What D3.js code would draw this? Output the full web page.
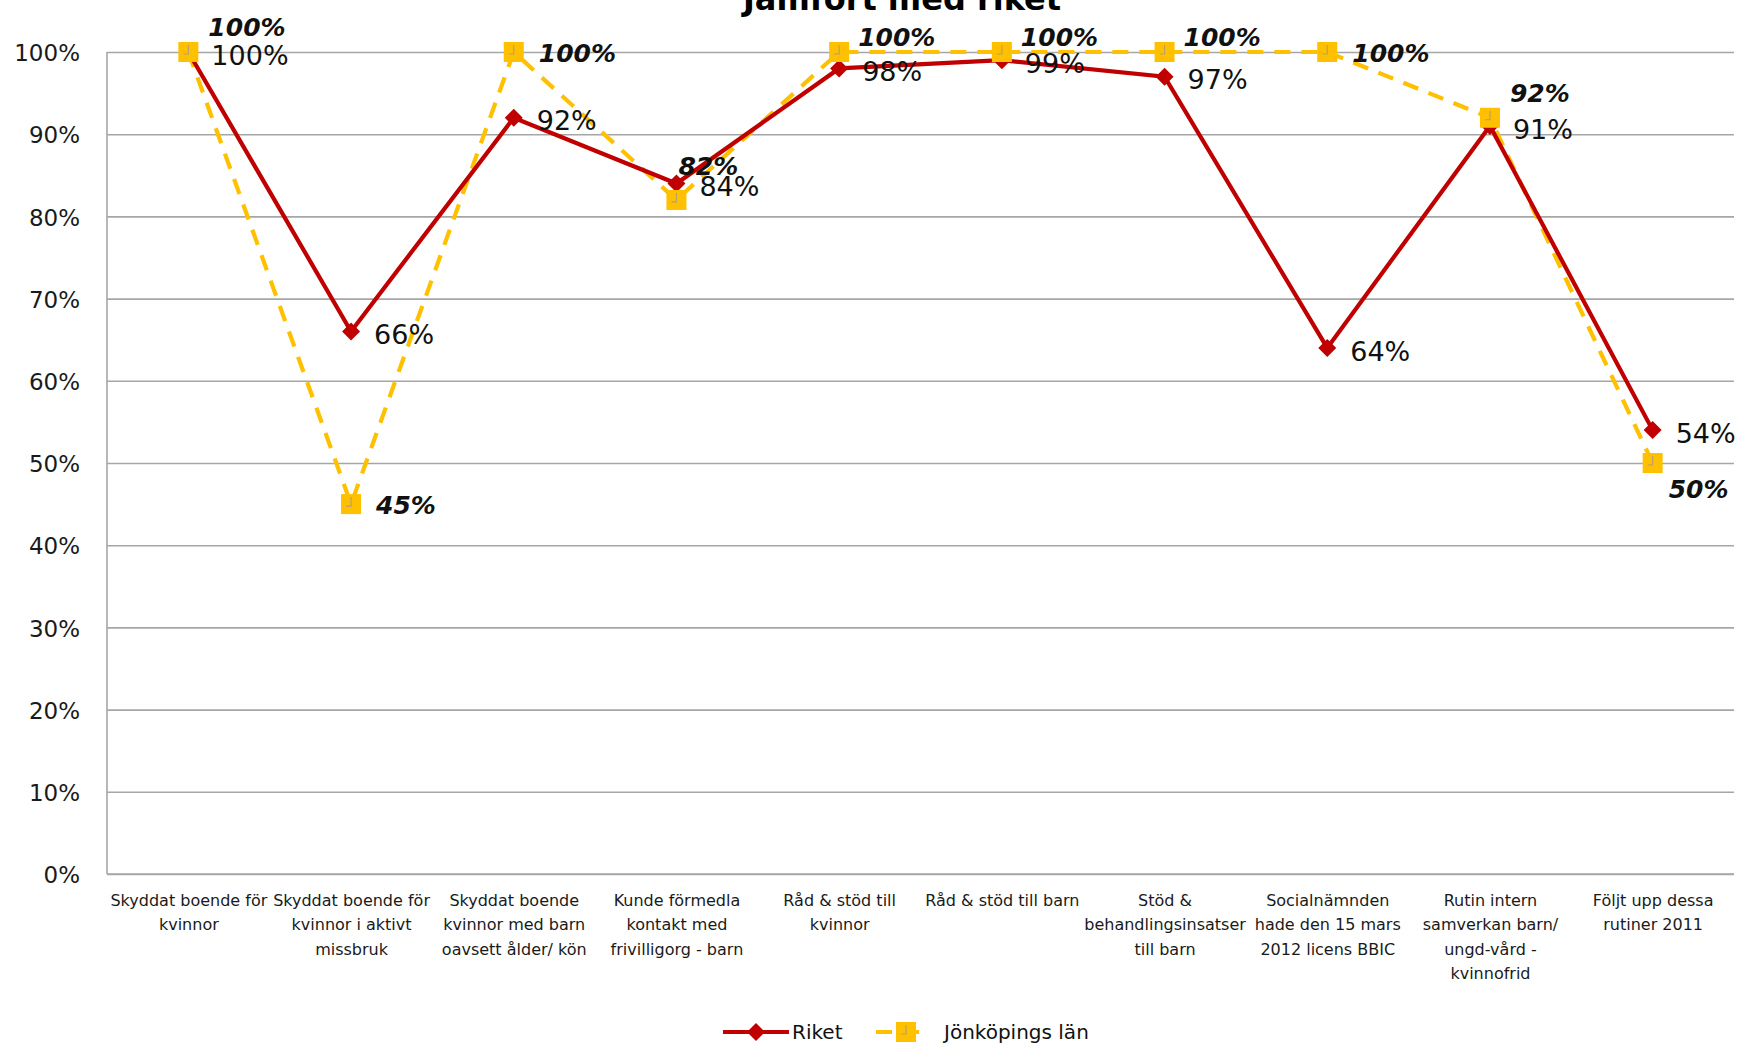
<!DOCTYPE html>
<html>
<head>
<meta charset="utf-8">
<script src="https://cdn.jsdelivr.net/npm/d3@7"></script>
<style>
  html, body { margin: 0; padding: 0; background: #fff; }
  svg { display: block; }
</style>
</head>
<body>
<svg id="chart" width="1738" height="1044"></svg>
<script>
// ---------- data ----------
const title = "Jämfört med riket";
const categories = [
  "Skyddat boende för\nkvinnor",
  "Skyddat boende för\nkvinnor i aktivt\nmissbruk",
  "Skyddat boende\nkvinnor med barn\noavsett ålder/ kön",
  "Kunde förmedla\nkontakt med\nfrivilligorg - barn",
  "Råd & stöd till\nkvinnor",
  "Råd & stöd till barn",
  "Stöd &\nbehandlingsinsatser\ntill barn",
  "Socialnämnden\nhade den 15 mars\n2012 licens BBIC",
  "Rutin intern\nsamverkan barn/\nungd-vård -\nkvinnofrid",
  "Följt upp dessa\nrutiner 2011"
];
const seriesNames = ["Riket", "Jönköpings län"];
const riket = [100, 66, 92, 84, 98, 99, 97, 64, 91, 54];
const jonkoping = [100, 45, 100, 82, 100, 100, 100, 100, 92, 50];
const yTicks = [0, 10, 20, 30, 40, 50, 60, 70, 80, 90, 100];
// label placement keywords (Jönköpings län labels)
const jkpLabelPlacement = ["above", "right", "right", "top", "upper", "upper", "upper", "right", "above", "below"];

// ---------- layout ----------
const W = 1738, H = 1044;
const plot = { left: 107, right: 1734, top: 52, bottom: 874 };
const RED = "#C00000", YELLOW = "#FFC000", GRID = "#A6A6A6";
const FONT = "'DejaVu Sans', sans-serif";

const svg = d3.select("#chart");
svg.append("rect").attr("width", W).attr("height", H).attr("fill", "#fff");

const x = d3.scalePoint().domain(d3.range(categories.length))
  .range([plot.left, plot.right]).padding(0.5);
const y = d3.scaleLinear().domain([0, 100]).range([plot.bottom, plot.top]);

// title (partly clipped at top, as in reference)
svg.append("text")
  .attr("x", 902).attr("y", 10)
  .attr("text-anchor", "middle")
  .attr("font-family", FONT).attr("font-weight", "bold").attr("font-size", 32)
  .attr("fill", "#000").text(title);

// y axis + gridlines
const yAxis = svg.append("g")
  .attr("transform", `translate(${plot.left},0)`)
  .call(d3.axisLeft(y).tickValues(yTicks).tickSize(-(plot.right - plot.left)).tickPadding(27)
    .tickFormat(d => d + "%"));
yAxis.select(".domain").remove();
yAxis.selectAll(".tick line").attr("stroke", GRID).attr("stroke-width", 1.6);
yAxis.selectAll(".tick text")
  .attr("font-family", FONT).attr("font-size", 23).attr("fill", "#1a1a1a")
  .attr("dy", "0.38em");

// axis lines
svg.append("line").attr("x1", plot.left).attr("x2", plot.left)
  .attr("y1", plot.top).attr("y2", plot.bottom)
  .attr("stroke", GRID).attr("stroke-width", 1.6);
svg.append("line").attr("x1", plot.left).attr("x2", plot.right)
  .attr("y1", plot.bottom).attr("y2", plot.bottom)
  .attr("stroke", GRID).attr("stroke-width", 1.6);

// x axis category labels
const xAxis = svg.append("g")
  .attr("transform", `translate(0,${plot.bottom})`)
  .call(d3.axisBottom(x).tickSize(0).tickFormat(""));
xAxis.select(".domain").remove();
xAxis.selectAll(".tick").each(function(d) {
  const t = d3.select(this).append("text")
    .attr("text-anchor", "middle")
    .attr("font-family", FONT).attr("font-size", 16).attr("fill", "#1a1a1a")
    .attr("y", 32);
  categories[d].split("\n").forEach((line, i) => {
    t.append("tspan").attr("x", 0).attr("dy", i === 0 ? 0 : 24.4).text(line);
  });
});

// lines
const lineGen = d3.line().x((d, i) => x(i)).y(d => y(d));
svg.append("path").datum(jonkoping)
  .attr("d", lineGen).attr("fill", "none")
  .attr("stroke", YELLOW).attr("stroke-width", 4.2)
  .attr("stroke-dasharray", "16 11");
svg.append("path").datum(riket)
  .attr("d", lineGen).attr("fill", "none")
  .attr("stroke", RED).attr("stroke-width", 4.2);

// markers
const diamond = "M0,-9L9,0L0,9L-9,0Z";
function drawSquare(g) {
  g.append("rect").attr("x", -10).attr("y", -10).attr("width", 20).attr("height", 20)
    .attr("fill", YELLOW);
  g.append("path").attr("d", "M0,-7V2H-5").attr("fill", "none")
    .attr("stroke", "#B8A070").attr("stroke-width", 1.2);
}
svg.append("g").selectAll("path").data(riket).join("path")
  .attr("transform", (d, i) => `translate(${x(i)},${y(d)})`)
  .attr("d", diamond).attr("fill", RED);
svg.append("g").selectAll("g").data(jonkoping).join("g")
  .attr("transform", (d, i) => `translate(${x(i)},${y(d)})`)
  .each(function() { drawSquare(d3.select(this)); });

// data labels
svg.append("g").selectAll("text").data(riket).join("text")
  .attr("x", (d, i) => x(i) + 23)
  .attr("y", d => y(d) + 3)
  .attr("dy", "0.36em")
  .attr("font-family", FONT).attr("font-size", 27).attr("fill", "#111")
  .text(d => d + "%");

const placeOffset = {
  right: [25, 1], above: [20, -25], upper: [19, -15], top: [2, -34], below: [16, 26]
};
svg.append("g").selectAll("text").data(jonkoping).join("text")
  .attr("x", (d, i) => x(i) + placeOffset[jkpLabelPlacement[i]][0])
  .attr("y", (d, i) => y(d) + placeOffset[jkpLabelPlacement[i]][1])
  .attr("dy", "0.36em")
  .attr("font-family", FONT).attr("font-size", 25)
  .attr("font-weight", "bold").attr("font-style", "italic").attr("fill", "#111")
  .text(d => d + "%");

// legend
const ly = 1032;
const lg = svg.append("g");
lg.append("line").attr("x1", 723).attr("x2", 789).attr("y1", ly).attr("y2", ly)
  .attr("stroke", RED).attr("stroke-width", 4.2);
lg.append("path").attr("transform", `translate(756,${ly})`).attr("d", diamond).attr("fill", RED);
lg.append("text").attr("x", 792).attr("y", ly).attr("dy", "0.36em")
  .attr("font-family", FONT).attr("font-size", 20).attr("fill", "#111").text(seriesNames[0]);
lg.append("line").attr("x1", 876).attr("x2", 926).attr("y1", ly).attr("y2", ly)
  .attr("stroke", YELLOW).attr("stroke-width", 4.2).attr("stroke-dasharray", "16 11");
const lsq = lg.append("g").attr("transform", `translate(906,${ly})`);
drawSquare(lsq);
lg.append("text").attr("x", 944).attr("y", ly).attr("dy", "0.36em")
  .attr("font-family", FONT).attr("font-size", 20).attr("fill", "#111").text(seriesNames[1]);
</script>
</body>
</html>
